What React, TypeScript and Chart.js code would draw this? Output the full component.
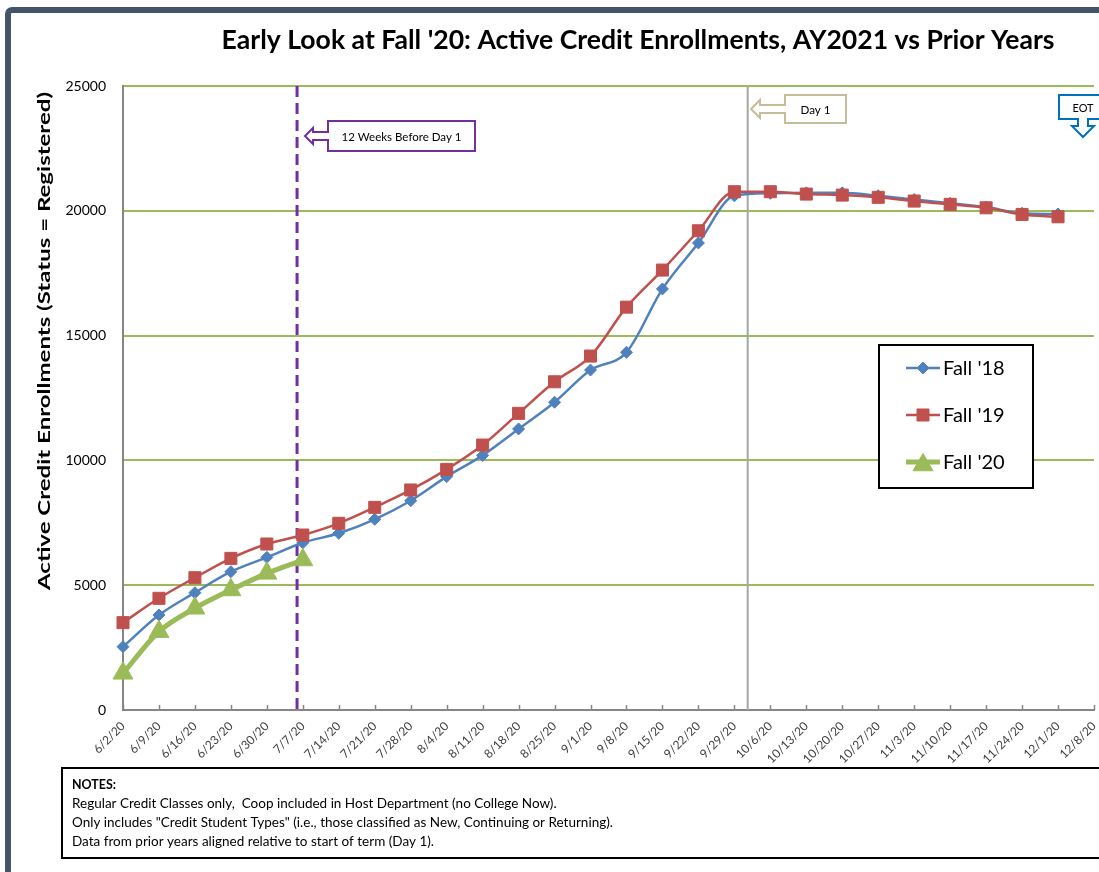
import React, { useEffect, useRef } from "react";
import { Chart, registerables } from "chart.js";
Chart.register(...registerables);

const categories = [
  "6/2/20", "6/9/20", "6/16/20", "6/23/20", "6/30/20", "7/7/20", "7/14/20",
  "7/21/20", "7/28/20", "8/4/20", "8/11/20", "8/18/20", "8/25/20", "9/1/20",
  "9/8/20", "9/15/20", "9/22/20", "9/29/20", "10/6/20", "10/13/20", "10/20/20",
  "10/27/20", "11/3/20", "11/10/20", "11/17/20", "11/24/20", "12/1/20", "12/8/20",
];
const fall18 = [
  2535, 3805, 4700, 5540, 6115, 6700, 7080, 7640, 8385, 9350, 10200, 11260, 12330,
  13620, 14330, 16870, 18710, 20600, 20700, 20720, 20720, 20600, 20450, 20300,
  20150, 19900, 19870, null,
];
const fall19 = [
  3500, 4475, 5300, 6075, 6650, 7010, 7480, 8120, 8815, 9640, 10615, 11885, 13150,
  14180, 16140, 17625, 19200, 20765, 20765, 20670, 20630, 20540, 20390, 20260,
  20120, 19855, 19760, null,
];
const fall20 = [
  1470, 3140, 4075, 4810, 5475, 6010, null, null, null, null, null, null, null, null,
  null, null, null, null, null, null, null, null, null, null, null, null, null, null,
];
const yTicks = [0, 5000, 10000, 15000, 20000, 25000];
const seriesNames = ["Fall '18", "Fall '19", "Fall '20"];
const titleText = "Early Look at Fall '20: Active Credit Enrollments, AY2021 vs Prior Years";
const yTitle = "Active Credit Enrollments (Status = Registered)";
const notes = [
  "Regular Credit Classes only,  Coop included in Host Department (no College Now).",
  "Only includes \"Credit Student Types\" (i.e., those classified as New, Continuing or Returning).",
  "Data from prior years aligned relative to start of term (Day 1).",
];
// fractional category positions of the reference markers
const twelveWeeksPos = 4.84;
const day1Pos = 17.37;

const BLUE = "#4F81BD";
const RED = "#C0504D";
const GREEN = "#9BBB59";
const FONT = "Lato, 'Open Sans', sans-serif";

function drawFit(ctx: CanvasRenderingContext2D, text: string, x: number, y: number, width: number, font: string, align: "left" | "center") {
  ctx.save();
  ctx.font = font;
  const w = ctx.measureText(text).width;
  const s = width / w;
  ctx.translate(x, y);
  ctx.scale(s, 1);
  ctx.textAlign = align;
  ctx.textBaseline = "middle";
  ctx.fillText(text, 0, 0);
  ctx.restore();
}

function catX(chart: any, pos: number) {
  const xs = chart.scales.x;
  const i = Math.floor(pos);
  const a = xs.getPixelForValue(i);
  const b = xs.getPixelForValue(i + 1);
  return a + (b - a) * (pos - i);
}

function drawMarker(ctx: CanvasRenderingContext2D, style: string, r: number, x: number, y: number) {
  ctx.beginPath();
  if (style === "rect") {
    const s = Math.SQRT1_2 * r;
    ctx.rect(x - s, y - s, 2 * s, 2 * s);
  } else if (style === "rectRot") {
    ctx.moveTo(x, y - r);
    ctx.lineTo(x + r, y);
    ctx.lineTo(x, y + r);
    ctx.lineTo(x - r, y);
    ctx.closePath();
  } else {
    ctx.moveTo(x, y - r);
    ctx.lineTo(x + r * 0.866, y + r * 0.5);
    ctx.lineTo(x - r * 0.866, y + r * 0.5);
    ctx.closePath();
  }
  ctx.fill();
  ctx.stroke();
}

const decorPlugin = {
  id: "decor",
  beforeDatasetsDraw(chart: any) {
    const ctx = chart.ctx as CanvasRenderingContext2D;
    const { top, bottom } = chart.chartArea;
    const dx = catX(chart, day1Pos);
    ctx.save();
    ctx.strokeStyle = "#A6A6A6";
    ctx.lineWidth = 2;
    ctx.beginPath();
    ctx.moveTo(dx, top);
    ctx.lineTo(dx, bottom);
    ctx.stroke();
    const px = catX(chart, twelveWeeksPos);
    ctx.strokeStyle = "#7030A0";
    ctx.lineWidth = 3;
    ctx.setLineDash([11, 6]);
    ctx.beginPath();
    ctx.moveTo(px, top);
    ctx.lineTo(px, bottom);
    ctx.stroke();
    ctx.restore();
  },
  afterDraw(chart: any) {
    const ctx = chart.ctx as CanvasRenderingContext2D;
    const { bottom } = chart.chartArea;
    ctx.save();
    // inside tick marks on x axis
    ctx.strokeStyle = "#868686";
    ctx.lineWidth = 1.5;
    const xs = chart.scales.x;
    for (let i = 0; i < categories.length; i++) {
      const x = Math.round(xs.getPixelForValue(i)) + 0.5;
      ctx.beginPath();
      ctx.moveTo(x, bottom);
      ctx.lineTo(x, bottom - 5);
      ctx.stroke();
    }

    // frame
    ctx.strokeStyle = "#44546A";
    ctx.lineWidth = 6;
    ctx.beginPath();
    (ctx as any).roundRect(8, 10, 1110, 866, 4);
    ctx.stroke();

    // title
    ctx.fillStyle = "#000";
    drawFit(ctx, titleText, 638, 40, 833, `bold 27px ${FONT}`, "center");

    // y title
    ctx.save();
    ctx.translate(45, 341);
    ctx.rotate(-Math.PI / 2);
    drawFit(ctx, yTitle, 0, 0, 498, `bold 17px ${FONT}`, "center");
    ctx.restore();

    const callout = (bx: number, by: number, bw: number, bh: number, tipX: number, color: string, text: string, textW: number, headHalf: number, shaftHalf: number, headLen: number) => {
      const cy = by + bh / 2;
      ctx.fillStyle = "#fff";
      ctx.strokeStyle = color;
      ctx.lineWidth = 2;
      ctx.beginPath();
      ctx.moveTo(bx, by);
      ctx.lineTo(bx + bw, by);
      ctx.lineTo(bx + bw, by + bh);
      ctx.lineTo(bx, by + bh);
      ctx.lineTo(bx, cy + shaftHalf);
      ctx.lineTo(tipX + headLen, cy + shaftHalf);
      ctx.lineTo(tipX + headLen, cy + headHalf);
      ctx.lineTo(tipX, cy);
      ctx.lineTo(tipX + headLen, cy - headHalf);
      ctx.lineTo(tipX + headLen, cy - shaftHalf);
      ctx.lineTo(bx, cy - shaftHalf);
      ctx.closePath();
      ctx.fill();
      ctx.stroke();
      ctx.fillStyle = "#000";
      drawFit(ctx, text, bx + bw / 2, cy + 1, textW, `12px ${FONT}`, "center");
    };
    callout(328, 121, 147, 30, 305, "#7030A0", "12 Weeks Before Day 1", 120, 8, 4, 8);
    callout(785, 95, 61, 28, 751, "#C4BD97", "Day 1", 30, 9, 4, 9);

    // EOT callout (down arrow)
    {
      const bx = 1059, by = 95, bw = 50, bh = 24;
      const cx = 1083;
      ctx.fillStyle = "#fff";
      ctx.strokeStyle = "#0070C0";
      ctx.lineWidth = 2;
      ctx.beginPath();
      ctx.moveTo(bx, by);
      ctx.lineTo(bx + bw, by);
      ctx.lineTo(bx + bw, by + bh);
      ctx.lineTo(cx + 5, by + bh);
      ctx.lineTo(cx + 5, 126);
      ctx.lineTo(cx + 11, 126);
      ctx.lineTo(cx, 137);
      ctx.lineTo(cx - 11, 126);
      ctx.lineTo(cx - 5, 126);
      ctx.lineTo(cx - 5, by + bh);
      ctx.lineTo(bx, by + bh);
      ctx.closePath();
      ctx.fill();
      ctx.stroke();
      ctx.fillStyle = "#000";
      drawFit(ctx, "EOT", cx, 108, 21, `12px ${FONT}`, "center");
    }

    // legend
    {
      const lx = 879, ly = 345, lw = 154, lh = 143;
      ctx.fillStyle = "#fff";
      ctx.strokeStyle = "#000";
      ctx.lineWidth = 2;
      ctx.fillRect(lx, ly, lw, lh);
      ctx.strokeRect(lx, ly, lw, lh);
      const ys = [368, 415, 462];
      for (let i = 0; i < 3; i++) {
        const ds = chart.data.datasets[i];
        ctx.strokeStyle = ds.borderColor;
        ctx.lineWidth = ds.borderWidth;
        ctx.beginPath();
        ctx.moveTo(906, ys[i]);
        ctx.lineTo(940, ys[i]);
        ctx.stroke();
        ctx.fillStyle = ds.backgroundColor;
        ctx.strokeStyle = ds.borderColor;
        ctx.lineWidth = 1;
        const off = ds.pointStyle === "triangle" ? 3 : 0;
        drawMarker(ctx, ds.pointStyle, ds.pointRadius, 923, ys[i] + off);
        ctx.fillStyle = "#000";
        ctx.font = `20px ${FONT}`;
        ctx.textAlign = "left";
        ctx.textBaseline = "middle";
        ctx.fillText(seriesNames[i], 943, ys[i] + 1);
      }
    }

    // notes box
    ctx.strokeStyle = "#000";
    ctx.lineWidth = 2;
    ctx.strokeRect(62, 768, 1050, 90);
    ctx.fillStyle = "#000";
    drawFit(ctx, "NOTES:", 72, 785, 44, `bold 13px ${FONT}`, "left");
    ctx.font = `13px ${FONT}`;
    const s = 541 / ctx.measureText(notes[1]).width;
    notes.forEach((t, i) => {
      ctx.save();
      ctx.translate(72, 804 + i * 19);
      ctx.scale(s, 1);
      ctx.textAlign = "left";
      ctx.textBaseline = "middle";
      ctx.fillText(t, 0, 0);
      ctx.restore();
    });
    ctx.restore();
  },
};

export default function App() {
  const ref = useRef<HTMLCanvasElement | null>(null);
  useEffect(() => {
    if (!ref.current) return;
    const chart = new Chart(ref.current, {
      type: "line",
      data: {
        labels: categories,
        datasets: [
          {
            label: seriesNames[0],
            data: fall18,
            borderColor: BLUE,
            backgroundColor: BLUE,
            borderWidth: 2.5,
            pointStyle: "rectRot",
            pointRadius: 6,
            pointBorderWidth: 1,
            cubicInterpolationMode: "monotone",
            order: 2,
            clip: false,
          },
          {
            label: seriesNames[1],
            data: fall19,
            borderColor: RED,
            backgroundColor: RED,
            borderWidth: 2.5,
            pointStyle: "rect",
            pointRadius: 8.5,
            pointBorderWidth: 1,
            cubicInterpolationMode: "monotone",
            order: 1,
            clip: false,
          },
          {
            label: seriesNames[2],
            data: fall20,
            borderColor: GREEN,
            backgroundColor: GREEN,
            borderWidth: 5,
            pointStyle: "triangle",
            pointRadius: 11.5,
            pointBorderWidth: 1,
            cubicInterpolationMode: "monotone",
            order: 0,
            clip: false,
          },
        ] as any,
      },
      options: {
        animation: false,
        responsive: false,
        devicePixelRatio: 1,
        layout: { autoPadding: false, padding: { top: 86, right: 5, left: 0, bottom: 0 } },
        plugins: { legend: { display: false }, title: { display: false }, tooltip: { enabled: false } },
        scales: {
          x: {
            type: "category",
            offset: false,
            grid: { display: false, drawTicks: false },
            border: { display: true, color: "#868686", width: 2 },
            ticks: {
              autoSkip: false,
              minRotation: 45,
              maxRotation: 45,
              padding: 9,
              color: "#404040",
              font: { family: FONT, size: 12 },
            },
            afterFit: (s: any) => {
              s.height = 162;
              s.paddingLeft = 0;
              s.paddingRight = 0;
            },
          },
          y: {
            min: 0,
            max: 25000,
            afterBuildTicks: (s: any) => {
              s.ticks = yTicks.map((v) => ({ value: v }));
            },
            grid: {
              color: (c: any) => (c.tick && c.tick.value === 0 ? "rgba(0,0,0,0)" : GREEN),
              lineWidth: 2,
              drawTicks: false,
            },
            border: { display: true, color: "#868686", width: 2 },
            ticks: {
              padding: 17,
              color: "#000",
              font: { family: FONT, size: 14 },
              callback: (v: any) => String(v),
            },
            afterFit: (s: any) => {
              s.width = 123;
            },
          },
        },
      },
      plugins: [decorPlugin],
    });
    return () => chart.destroy();
  }, []);
  return (
    <div style={{ position: "absolute", left: 0, top: 0, width: 1099, height: 872, background: "#fff" }}>
      <canvas ref={ref} width={1099} height={872} style={{ display: "block" }} />
    </div>
  );
}
